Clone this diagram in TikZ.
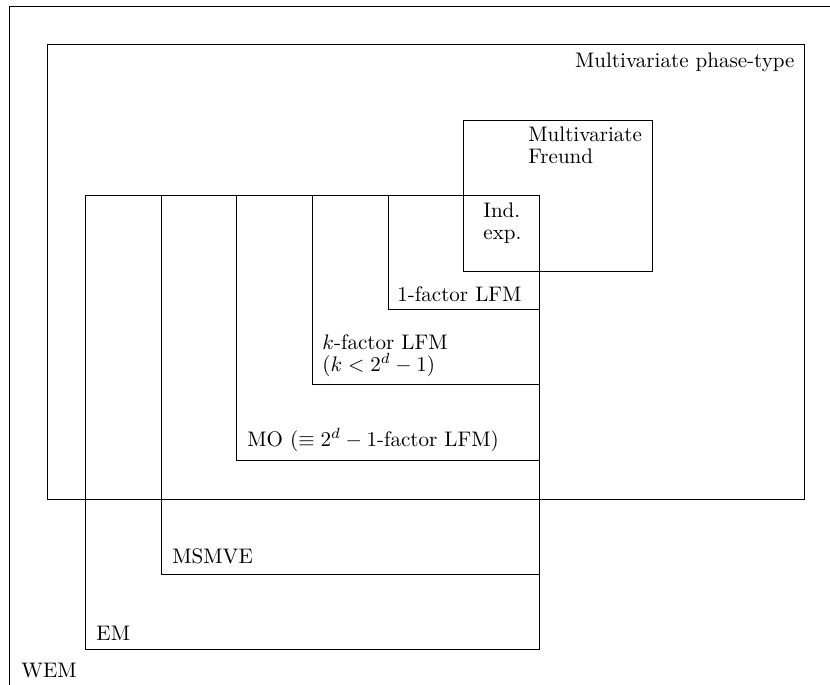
\documentclass[tikz,border=0pt]{standalone}
\begin{document}
\begin{tikzpicture}[x=0.475pt, y=-0.475pt]
    \tikzstyle{lbl} = [anchor=base west, inner sep=0pt, align=left, font=\fontsize{10}{10}\selectfont]

    \useasboundingbox (0,0) rectangle (830,684);
    \clip (0,0) rectangle (830,684);

    \draw (9.5,6.7) rectangle (845,700);
    \draw (47.7,44.3) rectangle (804,499);
    \draw (463.3,120.7) rectangle (652.7,271.7);
    \draw (85.3,195.5) rectangle (539.3,649.3);
    \draw (161,195.5) rectangle (539.3,574);
    \draw (236.7,195.5) rectangle (539.3,460);
    \draw (312.3,195.5) rectangle (539.3,384.7);
    \draw (388.3,195.5) rectangle (539.3,309.3);
    \draw (463.3,195.5) rectangle (539.3,271.7);

    \node [lbl] (wem) at (21,677) {WEM};
    \node [lbl] (em) at (96,640) {EM};
    \node [lbl] (msmve) at (172,563) {MSMVE};
    \node [lbl] (mo) at (247,446) {MO ($\equiv 2^d-1$-factor LFM)};
    \node [lbl] (kf) at (322,371) {$k$-factor LFM\\($k<2^d-1$)};
    \node [lbl] (onef) at (397,301) {1-factor LFM};
    \node [lbl] (ind) at (483,239) {Ind.\\exp.};
    \node [lbl] (freund) at (528,163) {Multivariate\\Freund};
    \node [lbl, anchor=base east] (mph) at (795,67) {Multivariate phase-type};
\end{tikzpicture}
\end{document}
